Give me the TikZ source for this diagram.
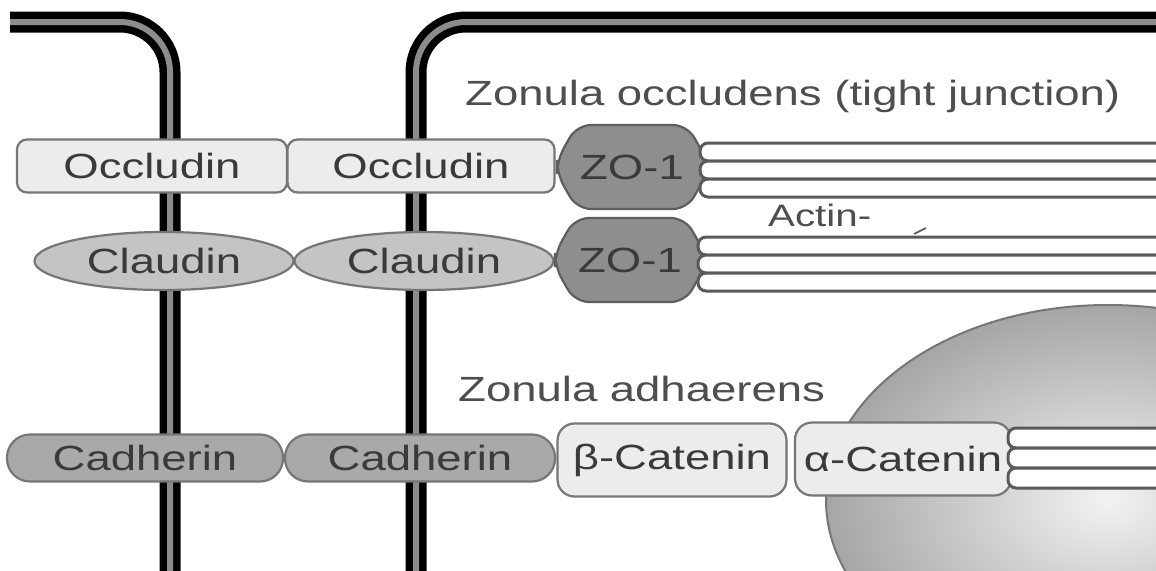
\documentclass[tikz,border=0pt]{standalone}
\usepackage{fontspec}
\setmainfont[FakeStretch=1.3]{Liberation Sans}
\usetikzlibrary{shapes.geometric}
\definecolor{txt}{HTML}{3A3A3A}
\definecolor{ttl}{HTML}{4E4E4E}
\definecolor{edge}{HTML}{767676}
\definecolor{light}{HTML}{ECECEC}
\definecolor{mid}{HTML}{C4C4C4}
\definecolor{cadg}{HTML}{A9A9A9}
\definecolor{zog}{HTML}{8E8E8E}
\definecolor{zoedge}{HTML}{5E5E5E}
\definecolor{bandedge}{HTML}{5A5A5A}
\definecolor{memgray}{HTML}{8C8C8C}
\begin{document}
\begin{tikzpicture}[x=1pt,y=-1pt,
  lbl/.style={font=\fontsize{35}{40}\selectfont, text=txt, inner sep=0pt},
  occbox/.style={lbl, draw=edge, fill=light, line width=2.2pt, rounded corners=10pt, minimum height=53pt},
  clbox/.style={lbl, ellipse, draw=edge, fill=mid, line width=2.2pt, minimum height=58pt, minimum width=259pt},
  cadbox/.style={lbl, draw=edge, fill=cadg, line width=2.2pt, rounded corners=23pt, minimum height=47pt},
  catbox/.style={lbl, draw=edge, fill=light, line width=2.2pt, rounded corners=17pt, minimum height=73pt},
  zoshape/.style={draw=zoedge, fill=zog, line width=2.2pt, rounded corners=14pt},
  band/.style={draw=bandedge, fill=white, line width=3pt, rounded corners=8pt},
  memblack/.style={draw=black, line width=21pt, rounded corners=50pt},
  memmid/.style={draw=memgray, line width=6pt, rounded corners=50pt},
  title/.style={font=\fontsize{35}{40}\selectfont, text=ttl, inner sep=0pt, anchor=base west}]
\useasboundingbox (0,0) rectangle (1156,570);
\fill[white] (0,0) rectangle (1156,570);
\begin{scope}
\clip (0,0) rectangle (1156,570);
% nucleus
\shade[inner color=white!90!gray, outer color=gray!70] (1108,500) ellipse [x radius=282, y radius=195];
\draw[edge, line width=2pt] (1108,500) ellipse [x radius=282, y radius=195];
% membranes
\draw[memblack] (10,22) -- (170,22) -- (170,600);
\draw[memmid] (10,22) -- (170,22) -- (170,600);
\draw[memblack] (416,600) -- (416,22) -- (1200,22);
\draw[memmid] (416,600) -- (416,22) -- (1200,22);
% tight junction row 1
\node[occbox, minimum width=270pt] (occ1) at (152,166) {Occludin};
\node[occbox, minimum width=267pt] (occ2) at (421,166) {Occludin};
\draw[zoshape] (577,125) -- (687,125) -- (707,160) -- (707,174) -- (687,209) -- (577,209) -- (557,174) -- (557,160) -- cycle;
\node[lbl] (zo1a) at (632,167) {ZO-1};
\draw[band] (700,143) rectangle (1180,161);
\draw[band] (700,161) rectangle (1180,179);
\draw[band] (700,179) rectangle (1180,197);
% row 2
\node[clbox] (cl1) at (164,261) {Claudin};
\node[clbox] (cl2) at (424,261) {Claudin};
\draw[zoshape] (575,218) -- (685,218) -- (705,253) -- (705,267) -- (685,302) -- (575,302) -- (555,267) -- (555,253) -- cycle;
\node[lbl] (zo1b) at (630,260) {ZO-1};
\draw[band] (698,237) rectangle (1180,255);
\draw[band] (698,255) rectangle (1180,273);
\draw[band] (698,273) rectangle (1180,291);
\node[font=\fontsize{31}{36}\selectfont, text=ttl, inner sep=0pt, anchor=base west] (actin) at (768,226) {Actin-};
\coordinate (tick) at (914,234);
\draw[bandedge, line width=1.6pt] (926,228) -- (tick);
% adherens row
\node[cadbox, minimum width=276pt] (cad1) at (145,458) {Cadherin};
\node[cadbox, minimum width=270pt] (cad2) at (420,458) {Cadherin};
\node[catbox, minimum width=229pt] (bcat) at (672,460) {β-Catenin};
\node[catbox, minimum width=216pt] (acat) at (903,459) {α-Catenin};
\draw[band] (1008,428) rectangle (1180,448);
\draw[band] (1008,448) rectangle (1180,468);
\draw[band] (1008,468) rectangle (1180,488);
\end{scope}
% titles
\node[title] (tj) at (465,105) {Zonula occludens (tight junction)};
\node[title] (za) at (458,401) {Zonula adhaerens};
\end{tikzpicture}
\end{document}
